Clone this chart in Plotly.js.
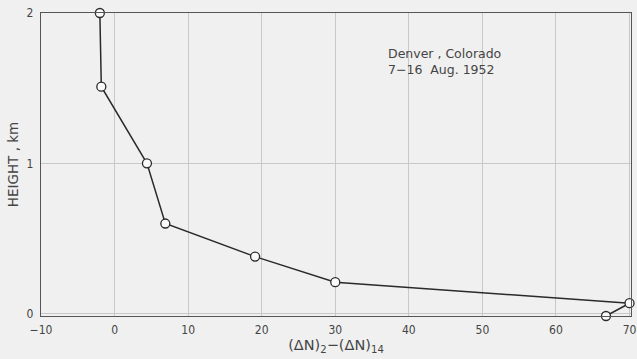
<!DOCTYPE html>
<html><head><meta charset="utf-8">
<script src="https://cdn.plot.ly/plotly-3.0.1.min.js"></script>
<style>body{margin:0;background:#f0f0f0}</style>
</head><body>
<div id="chart" style="width:637px;height:359px"></div>
<script>
const deltaN = [-2.0, -1.8, 4.4, 6.9, 19.1, 30.0, 70.0, 66.8];
const heightKm = [2.0, 1.51, 1.0, 0.6, 0.38, 0.21, 0.07, -0.015];
const xTicks = [-10, 0, 10, 20, 30, 40, 50, 60, 70];
const yTicks = [0, 1, 2];
const noteLines = ["Denver , Colorado", "7\u221216  Aug. 1952"];

const font = {family: "'Liberation Sans Narrow', 'DejaVu Sans Condensed', 'Liberation Sans', sans-serif", size: 12, color: '#444'};
const titleFont = {family: "'DejaVu Sans', sans-serif", size: 13, color: '#444'};

Plotly.newPlot('chart', [{
  x: deltaN, y: heightKm, type: 'scatter', mode: 'lines+markers',
  line: {color: '#2a2a2a', width: 1.5},
  marker: {symbol: 'circle', size: 9, color: '#fafafa', line: {color: '#2a2a2a', width: 1.3}},
  cliponaxis: false, hoverinfo: 'none'
}], {
  width: 637, height: 359,
  margin: {l: 41, r: 6, t: 13, b: 43},
  paper_bgcolor: '#f0f0f0', plot_bgcolor: '#f0f0f0',
  showlegend: false,
  font: font,
  xaxis: {
    range: [-10, 70.2], tickvals: xTicks, ticks: 'outside', ticklen: 2, tickcolor: 'rgba(0,0,0,0)',
    showgrid: true, gridcolor: '#c8c8c8', gridwidth: 1, zeroline: false,
    showline: true, mirror: true, linecolor: '#555', linewidth: 1.2,
    tickfont: font, tickformat: 'd',
    title: {text: '(\u0394N)<sub>2</sub>\u2212(\u0394N)<sub>14</sub>', font: {family: titleFont.family, size: 14.5, color: '#444'}, standoff: 3}
  },
  yaxis: {
    range: [-0.015, 2.0], tickvals: yTicks, ticks: 'outside', ticklen: 4, tickcolor: 'rgba(0,0,0,0)',
    showgrid: true, gridcolor: '#c8c8c8', gridwidth: 1, zeroline: false,
    showline: true, mirror: true, linecolor: '#555', linewidth: 1.2,
    tickfont: font,
    title: {text: 'HEIGHT , km', font: {family: titleFont.family, size: 13.5, color: '#444'}, standoff: 4}
  },
  annotations: [{
    x: 44.8, y: 1.68, xref: 'x', yref: 'y',
    text: noteLines.join('<br>'), showarrow: false,
    align: 'left', font: {family: "'DejaVu Sans', sans-serif", size: 12.5, color: '#444'}
  }]
}, {staticPlot: true});
</script>
</body></html>
